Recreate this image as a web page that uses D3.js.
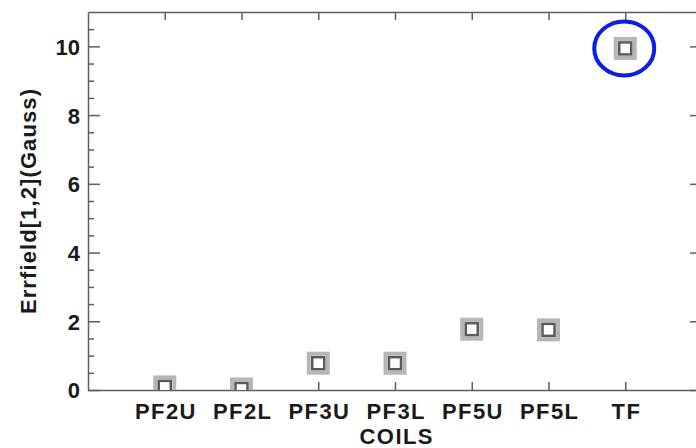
<!DOCTYPE html>
<html>
<head>
<meta charset="utf-8">
<script src="https://cdn.jsdelivr.net/npm/d3@7"></script>
<style>
  html, body { margin: 0; padding: 0; background: #fff; }
  svg { display: block; }
  text { font-family: "Liberation Sans", Arial, Helvetica, sans-serif; font-weight: bold; fill: #1a1a1a; }
</style>
</head>
<body>
<svg id="chart" width="696" height="448"></svg>
<script>
// Error field per coil set
const categories = ["PF2U", "PF2L", "PF3U", "PF3L", "PF5U", "PF5L", "TF"];
const errfield = [0.09, 0.03, 0.78, 0.78, 1.77, 1.75, 9.94];
const yMajorTicks = [0, 2, 4, 6, 8, 10];
const yMinorTicks = [0.5, 1, 1.5, 2.5, 3, 3.5, 4.5, 5, 5.5, 6.5, 7, 7.5, 8.5, 9, 9.5, 10.5];
const highlighted = "TF";

const svg = d3.select("#chart");
const plotL = 88, plotR = 702, plotT = 12, plotB = 390;
const axisColor = "#5e5e5e";
const spacing = 1.4;

const x = d3.scaleLinear().domain([-1, categories.length]).range([plotL, plotR]);
const y = d3.scaleLinear().domain([0, 11]).range([plotB, plotT]);

// clip region for the plotted symbols
svg.append("defs").append("clipPath").attr("id", "plotClip")
  .append("rect").attr("x", plotL).attr("y", plotT).attr("width", plotR - plotL).attr("height", plotB - plotT);

const idx = categories.map((d, i) => i);

function styleAxis(g) {
  g.selectAll(".domain, line").attr("stroke", axisColor).attr("stroke-width", 1.5);
}

// bottom axis: category ticks pointing inward
svg.append("g").attr("transform", `translate(0,${plotB})`)
  .call(d3.axisBottom(x).tickValues(idx).tickSizeInner(-8).tickSizeOuter(0).tickFormat(i => categories[i]))
  .call(styleAxis)
  .call(g => g.selectAll("text").attr("dy", null).attr("y", 29).attr("dx", spacing / 2)
    .attr("font-size", 22).attr("fill", "#1a1a1a").attr("letter-spacing", spacing)
    .style("font-family", "'Liberation Sans', Arial, sans-serif").style("font-weight", "bold"));

// top axis: ticks only
svg.append("g").attr("transform", `translate(0,${plotT})`)
  .call(d3.axisTop(x).tickValues(idx).tickSizeInner(-8).tickSizeOuter(0).tickFormat(""))
  .call(styleAxis);

// left axis: labelled majors and minor ticks
svg.append("g").attr("transform", `translate(${plotL},0)`)
  .call(d3.axisLeft(y).tickValues(yMajorTicks).tickSizeInner(-12).tickSizeOuter(0).tickPadding(8).tickFormat(d3.format("d")))
  .call(styleAxis)
  .call(g => g.selectAll("text").attr("font-size", 22).attr("fill", "#1a1a1a").attr("dy", "0.36em")
    .style("font-family", "'Liberation Sans', Arial, sans-serif").style("font-weight", "bold"));
svg.append("g").attr("transform", `translate(${plotL},0)`)
  .call(d3.axisLeft(y).tickValues(yMinorTicks).tickSizeInner(-6).tickSizeOuter(0).tickFormat(""))
  .call(styleAxis)
  .call(g => g.select(".domain").remove());

// right axis: mirrored ticks
svg.append("g").attr("transform", `translate(${plotR},0)`)
  .call(d3.axisRight(y).tickValues(yMajorTicks).tickSizeInner(-12).tickSizeOuter(0).tickFormat(""))
  .call(styleAxis);
svg.append("g").attr("transform", `translate(${plotR},0)`)
  .call(d3.axisRight(y).tickValues(yMinorTicks).tickSizeInner(-6).tickSizeOuter(0).tickFormat(""))
  .call(styleAxis)
  .call(g => g.select(".domain").remove());

// axis titles
svg.append("text")
  .attr("x", 396 + spacing / 2).attr("y", 444)
  .attr("text-anchor", "middle").attr("font-size", 22).attr("letter-spacing", spacing)
  .text("COILS");
svg.append("text")
  .attr("transform", `translate(36,201) rotate(-90)`)
  .attr("text-anchor", "middle").attr("font-size", 22).attr("letter-spacing", 1.1)
  .text("Errfield[1,2](Gauss)");

// square symbols: light outer frame with a darker inner frame
const pts = svg.append("g").attr("clip-path", "url(#plotClip)")
  .selectAll("g.pt").data(errfield).join("g")
  .attr("class", "pt")
  .attr("transform", (v, i) => `translate(${x(i)},${y(v)})`);
pts.append("rect").attr("x", -9.5).attr("y", -9.5).attr("width", 19).attr("height", 19)
  .attr("fill", "none").attr("stroke", "#b6b6b6").attr("stroke-width", 4);
pts.append("rect").attr("x", -6).attr("y", -6).attr("width", 12).attr("height", 12)
  .attr("fill", "#fff").attr("stroke", "#5a5a5a").attr("stroke-width", 2.5);

// highlight ring around the TF coil value
const hi = categories.indexOf(highlighted);
svg.append("ellipse")
  .attr("cx", x(hi) - 1).attr("cy", y(errfield[hi]))
  .attr("rx", 30).attr("ry", 27)
  .attr("fill", "none").attr("stroke", "#0a1ee6").attr("stroke-width", 4);
</script>
</body>
</html>
